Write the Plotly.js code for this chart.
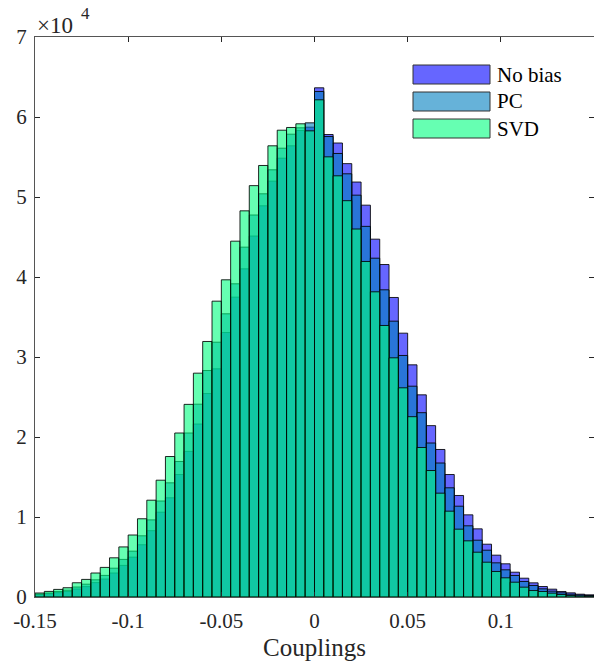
<!DOCTYPE html>
<html>
<head>
<meta charset="utf-8">
<script src="https://cdn.plot.ly/plotly-3.0.1.min.js"></script>
<style>html,body{margin:0;padding:0;background:#fff;}#chart{width:594px;height:666px;}</style>
</head>
<body>
<div id="chart"></div>
<script>
// Histogram bins
const binStart = -0.15;
const binWidth = 0.005;

// Counts per bin (60 bins from -0.15 to 0.15)
const noBias = [280,400,540,680,1000,1300,1800,2250,3000,3950,
  4980,6530,8290,10600,12400,15310,18200,21620,25430,28520,
  33060,37480,41020,45120,48900,51980,54850,56400,58310,58730,
  63650,57810,56750,54170,51870,48980,44730,41560,37440,32980,
  29020,25270,21420,18440,15310,12690,10270,8520,6600,5230,
  4150,3100,2350,1770,1310,980,690,520,350,270];
const pc = [360,500,680,850,1250,1600,2150,2700,3600,4700,
  5730,7650,9640,12000,14270,16940,20500,24100,28310,31850,
  35400,39150,43730,47750,50400,53400,56100,57850,58650,59270,
  63190,57560,55440,52900,50230,46330,42350,38400,34480,30190,
  26350,23040,19250,16750,13650,11350,8900,7100,5850,4270,
  3400,2690,1940,1440,1020,730,520,350,250,190];
const svd = [500,700,950,1160,1780,2200,3000,3700,4900,6260,
  7750,9780,12100,14600,17560,20500,24080,27980,31940,36980,
  39650,44480,48270,51420,53940,56400,58350,58690,59150,58270,
  62150,55020,52650,49540,46000,41940,38150,33940,29900,26150,
  22540,18690,15810,12980,10730,8480,7020,5600,4350,3190,
  2400,1850,1230,810,690,480,310,190,130,100];

const seriesNames = ['No bias','PC','SVD'];
const xTickVals = [-0.15,-0.1,-0.05,0,0.05,0.1];
const xTickText = ['-0.15','-0.1','-0.05','0','0.05','0.1'];
const yTickVals = [0,10000,20000,30000,40000,50000,60000,70000];
const yTickText = ['0','1','2','3','4','5','6','7'];

const centers = noBias.map((_, i) => binStart + binWidth * (i + 0.5));
const fills = ['rgba(0,0,255,0.6)','rgba(0,127,191,0.6)','rgba(0,255,127,0.6)'];
const legendFills = ['#6666ff','#66b2d9','#66ffb2'];
const allSeries = [noBias, pc, svd];

const traces = allSeries.map((vals, k) => ({
  type: 'bar',
  x: centers,
  y: vals,
  width: binWidth,
  name: seriesNames[k],
  marker: {color: fills[k], line: {color: 'rgba(0,0,0,0.85)', width: 1}},
  hoverinfo: 'x+y+name',
  showlegend: false
}));

const font = {family: '"Liberation Serif", "DejaVu Serif", serif', color: '#262626'};

// Manual legend (wide patches like the original)
const shapes = [];
const annotations = [];
const legTop = [65, 92, 119];
seriesNames.forEach((nm, k) => {
  const y0 = 1 - (legTop[k] - 37) / 560;
  const y1 = 1 - (legTop[k] + 19 - 37) / 560;
  shapes.push({type: 'rect', xref: 'paper', yref: 'paper',
    x0: (413 - 35) / 559, x1: (490 - 35) / 559, y0: y1, y1: y0,
    fillcolor: legendFills[k], line: {color: '#333', width: 1}});
  annotations.push({xref: 'paper', yref: 'paper', x: (495 - 35) / 559, y: (y0 + y1) / 2,
    xanchor: 'left', yanchor: 'middle', text: nm, showarrow: false,
    font: Object.assign({}, font, {size: 21, color: '#000'})});
});
// Exponent label (×10^4)
annotations.push({xref: 'paper', yref: 'paper', x: 0, y: 1, xanchor: 'left', yanchor: 'bottom',
  text: '×10', showarrow: false, xshift: 0, yshift: -3,
  font: Object.assign({}, font, {size: 23})});
annotations.push({xref: 'paper', yref: 'paper', x: 0, y: 1, xanchor: 'left', yanchor: 'bottom',
  text: '4', showarrow: false, xshift: 44, yshift: 12,
  font: Object.assign({}, font, {size: 17})});

const layout = {
  width: 594, height: 666,
  margin: {l: 35, r: 0, t: 37, b: 69},
  paper_bgcolor: '#fff', plot_bgcolor: '#fff',
  barmode: 'overlay', bargap: 0,
  font: font,
  showlegend: false,
  xaxis: {
    range: [-0.15, 0.15], tickvals: xTickVals, ticktext: xTickText,
    ticks: 'inside', ticklen: 5, tickcolor: '#262626', showgrid: false, zeroline: false,
    showline: true, linecolor: '#555', linewidth: 1, mirror: 'ticks',
    ticklabelstandoff: 5,
    tickfont: Object.assign({}, font, {size: 21}),
    title: {text: 'Couplings', font: Object.assign({}, font, {size: 25}), standoff: 6}
  },
  yaxis: {
    range: [0, 70000], tickvals: yTickVals, ticktext: yTickText,
    ticks: 'inside', ticklen: 5, tickcolor: '#262626', showgrid: false, zeroline: false,
    showline: true, linecolor: '#555', linewidth: 1, mirror: 'ticks',
    ticklabelstandoff: 3,
    tickfont: Object.assign({}, font, {size: 21})
  },
  shapes: shapes,
  annotations: annotations
};

Plotly.newPlot('chart', traces, layout, {displayModeBar: false, staticPlot: true});
</script>
</body>
</html>
